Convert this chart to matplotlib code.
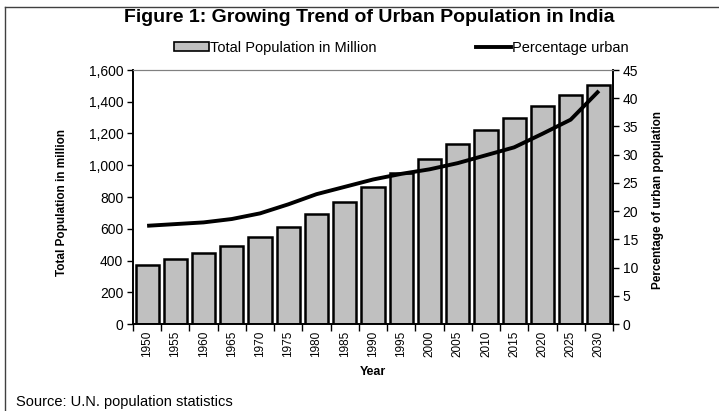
import matplotlib
matplotlib.use("Agg")
import matplotlib.pyplot as plt
from matplotlib.lines import Line2D
from matplotlib.patches import Patch
from matplotlib.ticker import FuncFormatter, FixedLocator

plt.rcParams["font.family"] = ["Liberation Sans", "DejaVu Sans"]

years = ["1950", "1955", "1960", "1965", "1970", "1975", "1980", "1985", "1990",
         "1995", "2000", "2005", "2010", "2015", "2020", "2025", "2030"]
total_population = [371, 407, 449, 494, 551, 614, 693, 770, 862,
                     952, 1042, 1133, 1220, 1299, 1375, 1443, 1505]
percent_urban = [17.4, 17.7, 18.0, 18.6, 19.6, 21.2, 23.0, 24.3, 25.6,
                 26.6, 27.4, 28.5, 29.9, 31.3, 33.7, 36.2, 41.3]

fig = plt.figure(figsize=(7.19, 4.11), dpi=100)
ax = fig.add_axes([133 / 719, 1 - 324 / 411, 480 / 719, 254 / 411])
ax2 = ax.twinx()

x = list(range(len(years)))
ax.bar(x, total_population, width=0.82, color="#c0c0c0", edgecolor="black",
       linewidth=1.8, zorder=2)
ax.set_xlim(-0.5, len(years) - 0.5)
ax.set_ylim(0, 1600)
ax.set_yticks(range(0, 1601, 200))
ax.yaxis.set_major_formatter(FuncFormatter(lambda v, p: f"{int(v):,}"))
ax.set_xticks(x)
ax.set_xticklabels(years, rotation=90, fontsize=8.5)
ax.xaxis.set_minor_locator(FixedLocator([i + 0.5 for i in range(-1, len(years))]))
ax.tick_params(axis="x", which="major", length=0, pad=5)
ax.tick_params(axis="x", which="minor", length=5, width=1, direction="out")
ax.tick_params(axis="y", length=4, width=1, labelsize=10, pad=3)

ax2.plot(x, percent_urban, color="black", linewidth=2.8, solid_capstyle="butt",
         solid_joinstyle="round", zorder=3)
ax2.set_ylim(0, 45)
ax2.set_yticks(range(0, 46, 5))
ax2.tick_params(axis="y", length=4, width=1, labelsize=10, pad=3)

for a in (ax, ax2):
    a.spines["top"].set_color("#808080")
    a.spines["top"].set_linewidth(0.8)
    for s in ("left", "right", "bottom"):
        a.spines[s].set_linewidth(1.2)

ax.set_xlabel("Year", fontsize=9, fontweight="bold", labelpad=6)
fig.text(62 / 719, 1 - 202 / 411, "Total Population in million", rotation=90,
         fontsize=8.5, fontweight="bold", ha="center", va="center")
fig.text(658 / 719, 1 - 200 / 411, "Percentage of urban population", rotation=90,
         fontsize=8.5, fontweight="bold", ha="center", va="center")

fig.text(369 / 719, 1 - 17 / 411, "Figure 1: Growing Trend of Urban Population in India",
         fontsize=14, fontweight="bold", ha="center", va="center")

handles = [Patch(facecolor="#c0c0c0", edgecolor="black", linewidth=1.2),
           Line2D([0], [0], color="black", linewidth=2.8)]
fig.legend(handles, ["Total Population in Million", "Percentage urban"],
           loc="center", bbox_to_anchor=(401 / 719, 1 - 48 / 411), ncol=2,
           frameon=False, fontsize=10.5, handlelength=2.4, handletextpad=0.08,
           columnspacing=6.8, handleheight=0.55)

fig.text(16 / 719, 1 - 402 / 411, "Source: U.N. population statistics",
         fontsize=10.5, ha="left", va="center")

# outer frame (left and top edges only, as in the original)
fig.add_artist(Line2D([5 / 719, 5 / 719], [0, 1 - 7 / 411], transform=fig.transFigure,
                      color="#404040", linewidth=1))
fig.add_artist(Line2D([5 / 719, 1], [1 - 7 / 411, 1 - 7 / 411], transform=fig.transFigure,
                      color="#404040", linewidth=1))

fig.savefig("out.png", dpi=100)
